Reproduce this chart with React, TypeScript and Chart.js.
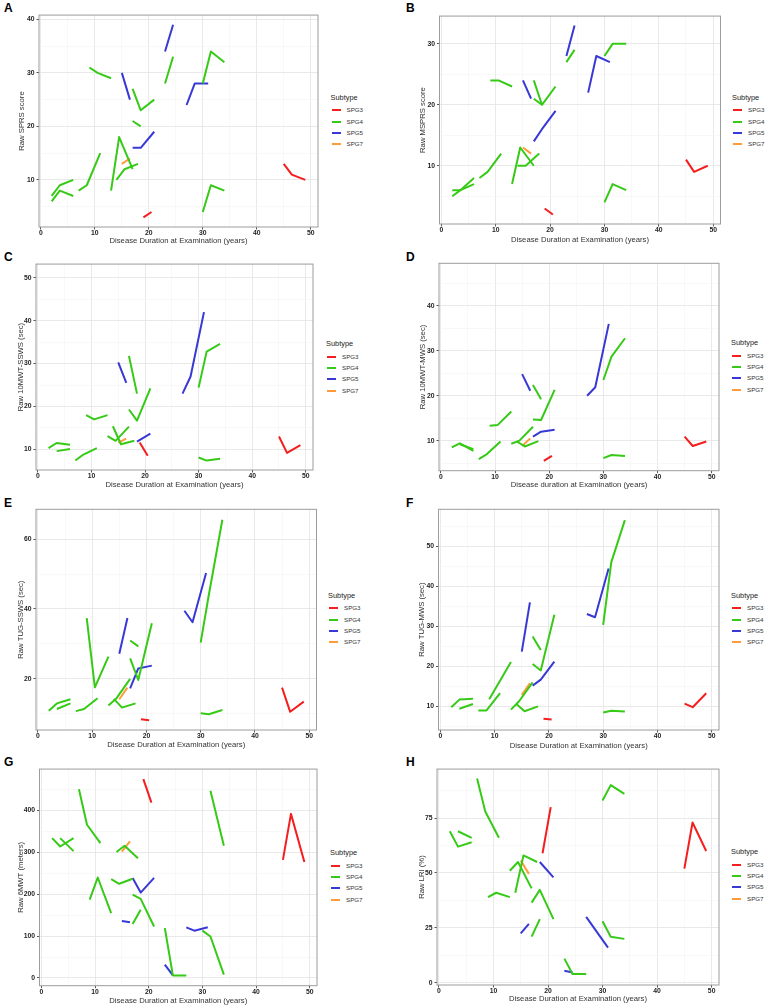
import React, { useEffect, useRef } from "react";
import { Chart, registerables } from "chart.js";

Chart.register(...registerables);

type Pt = [number, number];
type Traj = [string, Pt[]];

// ---------- shared scales / legend ----------
const subtypes = ["SPG3", "SPG4", "SPG5", "SPG7"];
const subtypeColors = ["#F41E1E", "#36CA17", "#3838D6", "#FF9B3A"];
const drawOrder = ["SPG4", "SPG5", "SPG3", "SPG7"];

const xMajorTicks = [0, 10, 20, 30, 40, 50];
const xMinorTicks = [5, 15, 25, 35, 45];
const xRange: Pt = [-0.35, 51.35];

const xTitleMain = "Disease Duration at Examination (years)";
const xTitleD = "Disease duration at Examination (years)";

// ---------- A: SPRS ----------
const sprsYTitle = "Raw SPRS score";
const sprsYRange: Pt = [1.2, 40.8];
const sprsYTicks = [10, 20, 30, 40];
const sprsYMinor = [5, 15, 25, 35];
const sprsLines: Traj[] = [
  ["SPG3", [[19, 3], [20.5, 4]]],
  ["SPG3", [[45, 13], [46.5, 11], [49, 10]]],
  ["SPG4", [[2, 7], [3.5, 9], [6, 10]]],
  ["SPG4", [[2, 6], [3.5, 8], [6, 7]]],
  ["SPG4", [[7, 8], [8.5, 9], [11, 15]]],
  ["SPG4", [[9, 31], [10.5, 30], [13, 29]]],
  ["SPG4", [[13, 8], [14.5, 18], [17, 12]]],
  ["SPG4", [[14, 10], [15.5, 12], [18, 13]]],
  ["SPG4", [[17, 27], [18.5, 23], [21, 25]]],
  ["SPG4", [[17, 21], [18.5, 20]]],
  ["SPG4", [[23, 28], [24.5, 33]]],
  ["SPG4", [[30, 28], [31.5, 34], [34, 32]]],
  ["SPG4", [[30, 4], [31.5, 9], [34, 8]]],
  ["SPG5", [[15, 30], [16.5, 25]]],
  ["SPG5", [[17, 16], [18.5, 16], [21, 19]]],
  ["SPG5", [[23, 34], [24.5, 39]]],
  ["SPG5", [[27, 24], [28.5, 28], [31, 28]]],
  ["SPG7", [[15, 13], [16.5, 14]]],
];

// ---------- B: MSPRS ----------
const msprsYTitle = "Raw MSPRS score";
const msprsYRange: Pt = [0.45, 34.55];
const msprsYTicks = [10, 20, 30];
const msprsYMinor = [5, 15, 25];
const msprsLines: Traj[] = [
  ["SPG3", [[19, 3], [20.5, 2]]],
  ["SPG3", [[45, 11], [46.5, 9], [49, 10]]],
  ["SPG4", [[2, 6], [3.5, 6], [6, 7]]],
  ["SPG4", [[2, 5], [3.5, 6], [6, 8]]],
  ["SPG4", [[7, 8], [8.5, 9], [11, 12]]],
  ["SPG4", [[9, 24], [10.5, 24], [13, 23]]],
  ["SPG4", [[13, 7], [14.5, 13], [17, 10]]],
  ["SPG4", [[14, 10], [15.5, 10], [18, 12]]],
  ["SPG4", [[17, 24], [18.5, 20], [21, 23]]],
  ["SPG4", [[17, 21], [18.5, 20]]],
  ["SPG4", [[23, 27], [24.5, 29]]],
  ["SPG4", [[30, 28], [31.5, 30], [34, 30]]],
  ["SPG4", [[30, 4], [31.5, 7], [34, 6]]],
  ["SPG5", [[15, 24], [16.5, 21]]],
  ["SPG5", [[17, 14], [18.5, 16], [21, 19]]],
  ["SPG5", [[23, 28], [24.5, 33]]],
  ["SPG5", [[27, 22], [28.5, 28], [31, 27]]],
  ["SPG7", [[15, 13], [16.5, 12]]],
];

// ---------- C: 10MWT-SSWS ----------
const ssws10YTitle = "Raw 10MWT-SSWS (sec)";
const ssws10YRange: Pt = [5.2, 53.2];
const ssws10YTicks = [10, 20, 30, 40, 50];
const ssws10YMinor = [15, 25, 35, 45];
const ssws10Lines: Traj[] = [
  ["SPG3", [[19, 11.6], [20.5, 8.5]]],
  ["SPG3", [[45, 13], [46.5, 9.2], [49, 11]]],
  ["SPG4", [[2, 10.3], [3.5, 11.5], [6, 11.1]]],
  ["SPG4", [[3.5, 9.6], [6, 10.1]]],
  ["SPG4", [[7, 7.4], [8.5, 8.8], [11, 10.3]]],
  ["SPG4", [[9, 18], [10.5, 17], [13, 18]]],
  ["SPG4", [[13, 13.1], [14.5, 12], [17, 15.3]]],
  ["SPG4", [[14, 15.4], [15.5, 11.2], [18, 12]]],
  ["SPG4", [[17, 31.8], [18.5, 23]]],
  ["SPG4", [[17, 19.3], [18.5, 16.7], [21, 24.2]]],
  ["SPG4", [[30, 24.4], [31.5, 32.8], [34, 34.6]]],
  ["SPG4", [[30, 8.1], [31.5, 7.4], [34, 7.8]]],
  ["SPG5", [[15, 30.3], [16.5, 25.5]]],
  ["SPG5", [[18.5, 11.8], [21, 13.7]]],
  ["SPG5", [[27, 23], [28.5, 27], [31, 42]]],
  ["SPG7", [[15, 11.6], [16.5, 12.5]]],
];

// ---------- D: 10MWT-MWS ----------
const mws10YTitle = "Raw 10MWT-MWS (sec)";
const mws10YRange: Pt = [3.3, 49.5];
const mws10YTicks = [10, 20, 30, 40];
const mws10YMinor = [5, 15, 25, 35, 45];
const mws10Lines: Traj[] = [
  ["SPG3", [[19, 5.5], [20.5, 6.6]]],
  ["SPG3", [[45, 10.9], [46.5, 8.8], [49, 9.8]]],
  ["SPG4", [[2, 8.5], [3.5, 9.4], [6, 7.7]]],
  ["SPG4", [[3.5, 9.2], [6, 8.1]]],
  ["SPG4", [[7, 5.9], [8.5, 7.0], [11, 9.8]]],
  ["SPG4", [[9, 13.3], [10.5, 13.5], [13, 16.5]]],
  ["SPG4", [[13, 9.3], [14.5, 10], [17, 13.1]]],
  ["SPG4", [[14, 9.8], [15.5, 8.7], [18, 9.9]]],
  ["SPG4", [[17, 22.4], [18.5, 19.2]]],
  ["SPG4", [[17, 14.7], [18.5, 14.6], [21, 21.3]]],
  ["SPG4", [[30, 23.5], [31.5, 28.7], [34, 32.8]]],
  ["SPG4", [[30, 6.1], [31.5, 6.8], [34, 6.6]]],
  ["SPG5", [[15, 24.8], [16.5, 21.1]]],
  ["SPG5", [[17, 10.9], [18.5, 12], [21, 12.4]]],
  ["SPG5", [[27, 20], [28.5, 21.9], [31, 36]]],
  ["SPG7", [[15, 8.8], [16.5, 10.5]]],
];

// ---------- E: TUG-SSWS ----------
const tugSswsYTitle = "Raw TUG-SSWS (sec)";
const tugSswsYRange: Pt = [5.4, 68.5];
const tugSswsYTicks = [20, 40, 60];
const tugSswsYMinor = [10, 30, 50];
const tugSswsLines: Traj[] = [
  ["SPG3", [[19, 8.5], [20.5, 8.2]]],
  ["SPG3", [[45, 17.5], [46.5, 10.6], [49, 13.5]]],
  ["SPG4", [[2, 10.9], [3.5, 13], [6, 14.2]]],
  ["SPG4", [[3.5, 11.4], [6, 13]]],
  ["SPG4", [[7, 10.8], [8.5, 11.4], [11, 14.5]]],
  ["SPG4", [[9, 37.4], [10.5, 17.6], [13, 26.4]]],
  ["SPG4", [[13, 12.4], [14.5, 14.5], [17, 20]]],
  ["SPG4", [[14, 14.3], [15.5, 11.8], [18, 13]]],
  ["SPG4", [[17, 31], [18.5, 29.3]]],
  ["SPG4", [[17, 25.9], [18.5, 19.7], [21, 35.9]]],
  ["SPG4", [[30, 30.4], [31.5, 44], [34, 65.5]]],
  ["SPG4", [[30, 10.2], [31.5, 9.9], [34, 11.1]]],
  ["SPG5", [[15, 27.2], [16.5, 37.4]]],
  ["SPG5", [[17, 17.3], [18.5, 23], [21, 23.8]]],
  ["SPG5", [[27, 39.5], [28.5, 36.2], [31, 50.3]]],
  ["SPG7", [[15, 14.2], [16.5, 17.5]]],
];

// ---------- F: TUG-MWS ----------
const tugMwsYTitle = "Raw TUG-MWS (sec)";
const tugMwsYRange: Pt = [4.0, 59.2];
const tugMwsYTicks = [10, 20, 30, 40, 50];
const tugMwsYMinor = [5, 15, 25, 35, 45, 55];
const tugMwsLines: Traj[] = [
  ["SPG3", [[19, 6.8], [20.5, 6.6]]],
  ["SPG3", [[45, 10.6], [46.5, 9.7], [49, 13.2]]],
  ["SPG4", [[2, 9.7], [3.5, 11.6], [6, 11.8]]],
  ["SPG4", [[3.5, 9.3], [6, 10.5]]],
  ["SPG4", [[7, 8.9], [8.5, 8.9], [11, 13.2]]],
  ["SPG4", [[9, 11.7], [13, 21]]],
  ["SPG4", [[13, 9.1], [14.5, 11.2], [17, 15.9]]],
  ["SPG4", [[14, 10.5], [15.5, 8.7], [18, 9.9]]],
  ["SPG4", [[17, 27.4], [18.5, 24]]],
  ["SPG4", [[17, 20.5], [18.5, 18.9], [21, 32.8]]],
  ["SPG4", [[30, 30.3], [31.5, 46], [34, 56.5]]],
  ["SPG4", [[30, 8.4], [31.5, 8.8], [34, 8.6]]],
  ["SPG5", [[15, 23.6], [16.5, 35.9]]],
  ["SPG5", [[17, 15.1], [18.5, 16.6], [21, 21.1]]],
  ["SPG5", [[27, 33], [28.5, 32.2], [31, 44.4]]],
  ["SPG7", [[15, 12.8], [16.5, 15.7]]],
];

// ---------- G: 6MWT ----------
const mwt6YTitle = "Raw 6MWT (meters)";
const mwt6YRange: Pt = [-18.5, 499];
const mwt6YTicks = [0, 100, 200, 300, 400];
const mwt6YMinor = [50, 150, 250, 350, 450];
const mwt6Lines: Traj[] = [
  ["SPG3", [[19, 475], [20.5, 419]]],
  ["SPG3", [[45, 282], [46.5, 392], [49, 277]]],
  ["SPG4", [[2, 334], [3.5, 314], [6, 334]]],
  ["SPG4", [[3.5, 334], [6, 303]]],
  ["SPG4", [[7, 451], [8.5, 366], [11, 322]]],
  ["SPG4", [[9, 187], [10.5, 240], [13, 155]]],
  ["SPG4", [[13, 236], [14.5, 225], [17, 237]]],
  ["SPG4", [[14, 301], [15.5, 316], [18, 286]]],
  ["SPG4", [[17, 199], [18.5, 189], [21, 123]]],
  ["SPG4", [[17, 129], [18.5, 163]]],
  ["SPG4", [[23, 119], [24.5, 6], [27, 6]]],
  ["SPG4", [[31.5, 447], [34, 316]]],
  ["SPG4", [[30, 113], [31.5, 99], [34, 8]]],
  ["SPG5", [[15, 136], [16.5, 133]]],
  ["SPG5", [[17, 239], [18.5, 204], [21, 239]]],
  ["SPG5", [[23, 32], [24.5, 6]]],
  ["SPG5", [[27, 121], [28.5, 113], [31, 121]]],
  ["SPG7", [[15, 302], [16.5, 326]]],
];

// ---------- H: LRI ----------
const lriYTitle = "Raw LRI (%)";
const lriYRange: Pt = [-1, 97.3];
const lriYTicks = [0, 25, 50, 75];
const lriYMinor = [12.5, 37.5, 62.5, 87.5];
const lriLines: Traj[] = [
  ["SPG3", [[19, 59], [20.5, 80]]],
  ["SPG3", [[45, 52], [46.5, 73], [49, 60]]],
  ["SPG4", [[2, 69], [3.5, 62], [6, 64]]],
  ["SPG4", [[3.5, 69], [6, 66]]],
  ["SPG4", [[7, 93], [8.5, 78], [11, 66]]],
  ["SPG4", [[9, 39], [10.5, 41], [13, 39]]],
  ["SPG4", [[13, 51], [14.5, 55], [17, 43]]],
  ["SPG4", [[14, 41], [15.5, 58], [18, 55]]],
  ["SPG4", [[17, 36.5], [18.5, 42.3], [21, 29]]],
  ["SPG4", [[17, 21], [18.5, 29]]],
  ["SPG4", [[23, 11], [24.5, 4], [27, 4]]],
  ["SPG4", [[30, 83], [31.5, 90], [34, 86]]],
  ["SPG4", [[30, 28], [31.5, 21], [34, 20]]],
  ["SPG5", [[15, 22.5], [16.5, 26.8]]],
  ["SPG5", [[18.5, 55], [21, 48]]],
  ["SPG5", [[23, 5.5], [24.5, 4.7]]],
  ["SPG5", [[27, 30], [31, 16]]],
  ["SPG7", [[15, 55.7], [16.5, 49.6]]],
];

// ---------- page layout (pixels) ----------
type Box = {
  colLeft: number; L: number; R: number; T: number; B: number;
  xTitleY: number; yTitleX: number; letterX: number; letterTop: number;
  legendX: number; legendY: number;
};
const boxA: Box = { colLeft: 0, L: 39, R: 318, T: 15, B: 227, xTitleY: 240.5, yTitleX: 22, letterX: 4, letterTop: 4, legendX: 330.5, legendY: 97.5 };
const boxB: Box = { colLeft: 383, L: 439.5, R: 720.5, T: 16, B: 224, xTitleY: 239.5, yTitleX: 423, letterX: 406, letterTop: 3.5, legendX: 732, legendY: 97.5 };
const boxC: Box = { colLeft: 0, L: 36, R: 313, T: 264, B: 470, xTitleY: 484.5, yTitleX: 20.7, letterX: 4, letterTop: 252.7, legendX: 326, legendY: 344 };
const boxD: Box = { colLeft: 383, L: 439, R: 719, T: 263.3, B: 470.7, xTitleY: 484.5, yTitleX: 423, letterX: 406, letterTop: 252.7, legendX: 731, legendY: 343 };
const boxE: Box = { colLeft: 0, L: 36, R: 316.5, T: 509.3, B: 730, xTitleY: 745, yTitleX: 20.7, letterX: 4, letterTop: 499, legendX: 328, legendY: 595.5 };
const boxF: Box = { colLeft: 383, L: 438.5, R: 719, T: 509.3, B: 730, xTitleY: 745.5, yTitleX: 422, letterX: 406, letterTop: 499, legendX: 731, legendY: 595.5 };
const boxG: Box = { colLeft: 0, L: 39.5, R: 317, T: 769, B: 985.7, xTitleY: 1000.5, yTitleX: 20.7, letterX: 4, letterTop: 757.7, legendX: 330, legendY: 853 };
const boxH: Box = { colLeft: 383, L: 437, R: 719, T: 769, B: 985, xTitleY: 999, yTitleX: 422, letterX: 406, letterTop: 758, legendX: 731, legendY: 852 };

type PanelCfg = {
  letter: string; lines: Traj[]; yTitle: string; xTitle: string;
  yRange: Pt; yMajor: number[]; yMinor: number[]; box: Box;
};

const panels: PanelCfg[] = [
  { letter: "A", lines: sprsLines, yTitle: sprsYTitle, xTitle: xTitleMain, yRange: sprsYRange, yMajor: sprsYTicks, yMinor: sprsYMinor, box: boxA },
  { letter: "B", lines: msprsLines, yTitle: msprsYTitle, xTitle: xTitleMain, yRange: msprsYRange, yMajor: msprsYTicks, yMinor: msprsYMinor, box: boxB },
  { letter: "C", lines: ssws10Lines, yTitle: ssws10YTitle, xTitle: xTitleMain, yRange: ssws10YRange, yMajor: ssws10YTicks, yMinor: ssws10YMinor, box: boxC },
  { letter: "D", lines: mws10Lines, yTitle: mws10YTitle, xTitle: xTitleD, yRange: mws10YRange, yMajor: mws10YTicks, yMinor: mws10YMinor, box: boxD },
  { letter: "E", lines: tugSswsLines, yTitle: tugSswsYTitle, xTitle: xTitleMain, yRange: tugSswsYRange, yMajor: tugSswsYTicks, yMinor: tugSswsYMinor, box: boxE },
  { letter: "F", lines: tugMwsLines, yTitle: tugMwsYTitle, xTitle: xTitleMain, yRange: tugMwsYRange, yMajor: tugMwsYTicks, yMinor: tugMwsYMinor, box: boxF },
  { letter: "G", lines: mwt6Lines, yTitle: mwt6YTitle, xTitle: xTitleMain, yRange: mwt6YRange, yMajor: mwt6YTicks, yMinor: mwt6YMinor, box: boxG },
  { letter: "H", lines: lriLines, yTitle: lriYTitle, xTitle: xTitleMain, yRange: lriYRange, yMajor: lriYTicks, yMinor: lriYMinor, box: boxH },
];

const FONT = "'Liberation Sans', Arial, Helvetica, sans-serif";
const TITLE_SIZE = 7.7;
const TICK_SIZE = 6.8;
const MAJOR_GRID = "#E6E6E6";
const MINOR_GRID = "#F3F3F3";

const framePlugin = {
  id: "panelFrame",
  afterDatasetsDraw(chart: any) {
    const { ctx, chartArea } = chart;
    ctx.save();
    ctx.strokeStyle = "#9C9C9C";
    ctx.lineWidth = 1;
    ctx.strokeRect(chartArea.left, chartArea.top, chartArea.right - chartArea.left, chartArea.bottom - chartArea.top);
    ctx.restore();
  },
};

function canvasRect(b: Box) {
  const left = Math.round(b.colLeft);
  const top = Math.round(b.T - 6);
  const right = Math.round(b.R + 4);
  const bottom = Math.min(1007, Math.round(b.xTitleY + 6));
  return { left, top, width: right - left, height: bottom - top, bottom, right };
}

function ChartPanel({ cfg }: { cfg: PanelCfg }) {
  const ref = useRef<HTMLCanvasElement>(null);
  const r = canvasRect(cfg.box);

  useEffect(() => {
    const b = cfg.box;
    const lh = TITLE_SIZE * 1.2;
    const ordered = drawOrder.flatMap((s) => cfg.lines.filter((l) => l[0] === s));
    const datasets = ordered.map(([sub, pts]) => ({
      label: sub,
      data: pts.map(([x, y]) => ({ x, y })),
      borderColor: subtypeColors[subtypes.indexOf(sub)],
      borderWidth: 2,
      pointRadius: 0,
      pointHoverRadius: 0,
      fill: false,
      tension: 0,
      borderJoinStyle: "round" as const,
      borderCapStyle: "butt" as const,
    }));
    const isMajX = (v: number) => xMajorTicks.includes(v);
    const isMajY = (v: number) => cfg.yMajor.includes(v);

    const chart = new Chart(ref.current!, {
      type: "line",
      data: { datasets },
      options: {
        animation: false,
        responsive: false,
        maintainAspectRatio: false,
        events: [],
        layout: {
          padding: { left: 0, top: b.T - r.top, right: r.right - b.R, bottom: 0 },
        },
        plugins: { legend: { display: false }, tooltip: { enabled: false } },
        scales: {
          x: {
            type: "linear",
            min: xRange[0],
            max: xRange[1],
            afterBuildTicks: (s: any) => {
              s.ticks = [...xMajorTicks, ...xMinorTicks].sort((a, c) => a - c).map((v) => ({ value: v }));
            },
            afterFit: (s: any) => {
              s.height = r.bottom - b.B;
            },
            ticks: {
              autoSkip: false,
              maxRotation: 0,
              padding: 0,
              color: "#1E1E1E",
              font: { family: FONT, size: TICK_SIZE, weight: "bold" },
              callback: (v: any) => (isMajX(Number(v)) ? String(v) : ""),
            },
            grid: {
              color: (c: any) => (c.tick && isMajX(c.tick.value) ? MAJOR_GRID : MINOR_GRID),
              lineWidth: (c: any) => (c.tick && isMajX(c.tick.value) ? 0.9 : 0.6),
              tickColor: (c: any) => (c.tick && isMajX(c.tick.value) ? "#444" : "rgba(0,0,0,0)"),
              tickLength: 2.5,
              drawTicks: true,
            },
            border: { display: false },
            title: {
              display: true,
              text: cfg.xTitle,
              color: "#333",
              font: { family: FONT, size: TITLE_SIZE },
              padding: { top: 0, bottom: r.bottom - b.xTitleY - lh / 2 },
            },
          },
          y: {
            type: "linear",
            min: cfg.yRange[0],
            max: cfg.yRange[1],
            afterBuildTicks: (s: any) => {
              s.ticks = [...cfg.yMajor, ...cfg.yMinor].sort((a, c) => a - c).map((v) => ({ value: v }));
            },
            afterFit: (s: any) => {
              s.width = b.L - r.left;
            },
            ticks: {
              autoSkip: false,
              padding: 2,
              color: "#1E1E1E",
              font: { family: FONT, size: TICK_SIZE, weight: "bold" },
              callback: (v: any) => (isMajY(Number(v)) ? String(v) : ""),
            },
            grid: {
              color: (c: any) => (c.tick && isMajY(c.tick.value) ? MAJOR_GRID : MINOR_GRID),
              lineWidth: (c: any) => (c.tick && isMajY(c.tick.value) ? 0.9 : 0.6),
              tickColor: (c: any) => (c.tick && isMajY(c.tick.value) ? "#444" : "rgba(0,0,0,0)"),
              tickLength: 2.5,
              drawTicks: true,
            },
            border: { display: false },
            title: {
              display: true,
              text: cfg.yTitle,
              color: "#333",
              font: { family: FONT, size: TITLE_SIZE },
              padding: { top: b.yTitleX - r.left - lh / 2, bottom: 0 },
            },
          },
        },
      } as any,
      plugins: [framePlugin],
    });
    return () => chart.destroy();
  }, []);

  return (
    <canvas
      ref={ref}
      width={r.width}
      height={r.height}
      style={{ position: "absolute", left: r.left, top: r.top, width: r.width, height: r.height }}
    />
  );
}

function Legend({ box }: { box: Box }) {
  const offsets = [12.5, 24, 35.3, 46.6];
  return (
    <>
      <div
        style={{
          position: "absolute", left: box.legendX, top: box.legendY - 5, height: 10, lineHeight: "10px",
          fontFamily: FONT, fontSize: 7.4, color: "#222", whiteSpace: "nowrap",
        }}
      >
        Subtype
      </div>
      {subtypes.map((s, i) => (
        <React.Fragment key={s}>
          <div
            style={{
              position: "absolute", left: box.legendX + 1, top: box.legendY + offsets[i] - 1,
              width: 9, height: 2, background: subtypeColors[i],
            }}
          />
          <div
            style={{
              position: "absolute", left: box.legendX + 16, top: box.legendY + offsets[i] - 5, height: 10,
              lineHeight: "10px", fontFamily: FONT, fontSize: 6.2, color: "#333", whiteSpace: "nowrap",
            }}
          >
            {s}
          </div>
        </React.Fragment>
      ))}
    </>
  );
}

export default function App() {
  return (
    <div
      style={{
        position: "absolute", left: 0, top: 0, width: 767, height: 1007, overflow: "hidden", background: "#fff",
      }}
    >
      {panels.map((p) => (
        <React.Fragment key={p.letter}>
          <div
            style={{
              position: "absolute", left: p.box.letterX, top: p.box.letterTop - 1.6, height: 12, lineHeight: "12px",
              fontFamily: FONT, fontWeight: "bold", fontSize: 12, color: "#000",
            }}
          >
            {p.letter}
          </div>
          <ChartPanel cfg={p} />
          <Legend box={p.box} />
        </React.Fragment>
      ))}
    </div>
  );
}
